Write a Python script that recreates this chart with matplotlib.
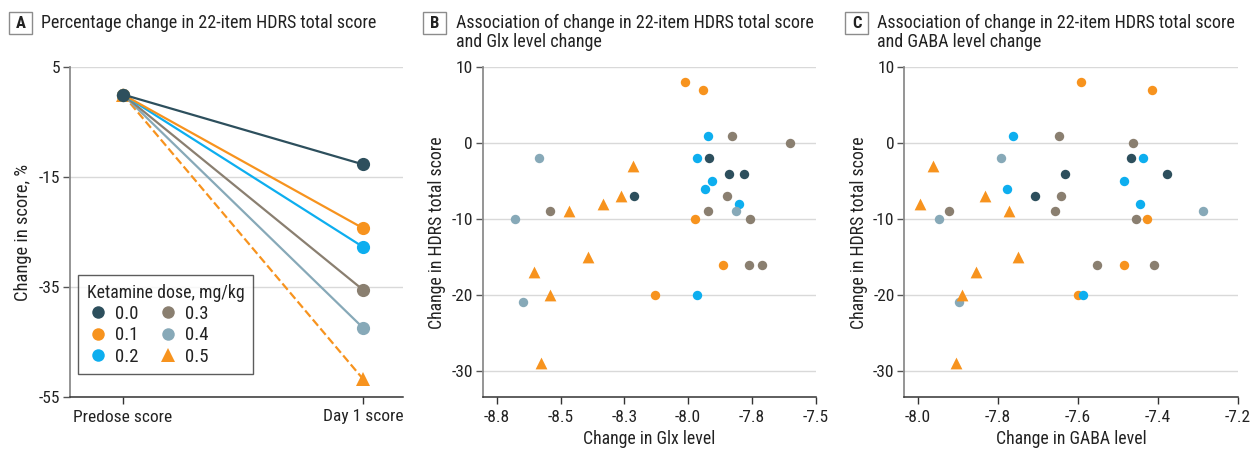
import matplotlib
matplotlib.use("Agg")
import matplotlib.pyplot as plt
from matplotlib import font_manager
from matplotlib.lines import Line2D
from matplotlib.patches import Rectangle

avail = {f.name for f in font_manager.fontManager.ttflist}
fam = None
for cand in ["Liberation Sans Narrow", "DejaVu Sans Condensed", "Roboto Condensed", "Open Sans Condensed", "Roboto"]:
    if cand in avail:
        fam = cand
        break
plt.rcParams['font.family'] = [fam, 'DejaVu Sans']
plt.rcParams['axes.unicode_minus'] = False

# ---------------- data ----------------
doses = ["0.0", "0.1", "0.2", "0.3", "0.4", "0.5"]
colors = ["#2d4f5d", "#f7931e", "#0daeef", "#8a7f70", "#87a9b8", "#f7931e"]
markers = ["o", "o", "o", "o", "o", "^"]

# Panel A: percentage change at day 1 (predose = 0)
timepoints = ["Predose score", "Day 1 score"]
predose = [0, 0, 0, 0, 0, 0]
day1 = [-12.7, -24.3, -27.7, -35.5, -42.4, -51.7]

# Panel B: Glx change vs HDRS change
glx_00 = [-7.917, -7.841, -7.780, -8.211]
hdrs_glx_00 = [-2, -4, -4, -7]
glx_01 = [-8.013, -7.943, -7.974, -7.862, -8.128]
hdrs_glx_01 = [8, 7, -10, -16, -20]
glx_02 = [-7.922, -7.966, -7.905, -7.934, -7.799, -7.966]
hdrs_glx_02 = [1, -2, -5, -6, -8, -20]
glx_03 = [-7.827, -7.601, -7.846, -7.921, -8.541, -7.757, -7.760, -7.709]
hdrs_glx_03 = [1, 0, -7, -9, -9, -10, -16, -16]
glx_04 = [-8.586, -8.677, -8.647, -7.811]
hdrs_glx_04 = [-2, -10, -21, -9]
glx_05 = [-8.217, -8.264, -8.333, -8.465, -8.394, -8.604, -8.540, -8.578]
hdrs_glx_05 = [-3, -7, -8, -9, -15, -17, -20, -29]

# Panel C: GABA change vs HDRS change
gaba_00 = [-7.468, -7.633, -7.378, -7.707]
hdrs_gaba_00 = [-2, -4, -4, -7]
gaba_01 = [-7.592, -7.415, -7.428, -7.484, -7.599]
hdrs_gaba_01 = [8, 7, -10, -16, -20]
gaba_02 = [-7.761, -7.438, -7.484, -7.778, -7.444, -7.586]
hdrs_gaba_02 = [1, -2, -5, -6, -8, -20]
gaba_03 = [-7.647, -7.463, -7.643, -7.657, -7.922, -7.454, -7.552, -7.410]
hdrs_gaba_03 = [1, 0, -7, -9, -9, -10, -16, -16]
gaba_04 = [-7.793, -7.948, -7.897, -7.288]
hdrs_gaba_04 = [-2, -10, -21, -9]
gaba_05 = [-7.962, -7.833, -7.995, -7.771, -7.749, -7.854, -7.889, -7.905]
hdrs_gaba_05 = [-3, -7, -8, -9, -15, -17, -20, -29]

a_yticks = [5, -15, -35, -55]
b_xticks = [-8.75, -8.5, -8.25, -8.0, -7.75, -7.5]
b_xticklabels = ["-8.8", "-8.5", "-8.3", "-8.0", "-7.8", "-7.5"]
c_xticks = [-8.0, -7.8, -7.6, -7.4, -7.2]
c_xticklabels = ["-8.0", "-7.8", "-7.6", "-7.4", "-7.2"]
bc_yticks = [10, 0, -10, -20, -30]

glx = [glx_00, glx_01, glx_02, glx_03, glx_04, glx_05]
hglx = [hdrs_glx_00, hdrs_glx_01, hdrs_glx_02, hdrs_glx_03, hdrs_glx_04, hdrs_glx_05]
gaba = [gaba_00, gaba_01, gaba_02, gaba_03, gaba_04, gaba_05]
hgaba = [hdrs_gaba_00, hdrs_gaba_01, hdrs_gaba_02, hdrs_gaba_03, hdrs_gaba_04, hdrs_gaba_05]

# ---------------- figure ----------------
W, H = 1258, 449
fig = plt.figure(figsize=(W / 100, H / 100), dpi=100)

def px_axes(l, r, t, b):
    return fig.add_axes([l / W, (H - b) / H, (r - l) / W, (b - t) / H])

axA = px_axes(70, 403, 67, 397)
axB = px_axes(482.7, 815.7, 67.3, 397.3)
axC = px_axes(904.3, 1237.7, 67.3, 397.3)

TXT = "#222222"
FS = 12.5
LFS = 12.8

def style(ax):
    for s in ["top", "right"]:
        ax.spines[s].set_visible(False)
    ax.spines["left"].set_color("#8c8c8c")
    ax.spines["left"].set_linewidth(1.3)
    ax.spines["bottom"].set_color("#333333")
    ax.spines["bottom"].set_linewidth(1.1)
    ax.tick_params(axis="y", length=5, width=1.0, color="#555555", labelsize=FS, labelcolor=TXT, pad=2)
    ax.tick_params(axis="x", length=5, width=1.0, color="#333333", labelsize=FS, labelcolor=TXT, pad=4)
    ax.grid(axis="y", color="#d9d9d9", linewidth=1.0)
    ax.set_axisbelow(True)

# Panel A
style(axA)
xpos = [0, 1]
for i in reversed(range(6)):
    ls = "--" if i == 5 else "-"
    axA.plot(xpos, [predose[i], day1[i]], color=colors[i], linestyle=ls, linewidth=1.6,
             marker=markers[i], markersize=9.5 if markers[i] == "o" else 10, zorder=3 + (6 - i),
             markeredgewidth=0, clip_on=False)
axA.set_xlim(-0.22, 1.167)
axA.set_ylim(-55, 5)
axA.set_yticks(a_yticks)
axA.set_yticklabels([str(v) for v in a_yticks])
axA.set_xticks(xpos)
axA.set_xticklabels(timepoints)
axA.set_ylabel("Change in score, %", fontsize=LFS + 0.5, color=TXT, labelpad=5)

handles = [Line2D([], [], linestyle="none", marker=markers[i], color=colors[i],
                  markersize=9 if markers[i] == "o" else 10, markeredgewidth=0) for i in range(6)]
leg = axA.legend(handles, doses, title="Ketamine dose, mg/kg", ncol=2, loc="upper left",
                 bbox_to_anchor=(0.025, 0.369), borderaxespad=0, fontsize=13.5,
                 title_fontsize=12.8, frameon=True, fancybox=False, handletextpad=0.3,
                 columnspacing=1.0, labelspacing=0.18, handlelength=1.2, borderpad=0.45)
leg._legend_box.align = "left"
leg.get_frame().set_edgecolor("#333333")
leg.get_frame().set_linewidth(1.0)
for t in leg.get_texts():
    t.set_color(TXT)
leg.get_title().set_color(TXT)
leg.set_zorder(20)

# Panels B and C
for ax, xs, ys, xt, xtl, xlim, xlabel in [
    (axB, glx, hglx, b_xticks, b_xticklabels, (-8.805, -7.5), "Change in Glx level"),
    (axC, gaba, hgaba, c_xticks, c_xticklabels, (-8.0335, -7.2), "Change in GABA level"),
]:
    style(ax)
    for i in range(6):
        ax.scatter(xs[i], ys[i], color=colors[i], marker=markers[i],
                   s=46 if markers[i] == "o" else 72, linewidths=0, zorder=3, clip_on=False)
    ax.set_xlim(*xlim)
    ax.set_ylim(-33.5, 10)
    ax.set_yticks(bc_yticks)
    ax.set_yticklabels([str(v) for v in bc_yticks])
    ax.set_xticks(xt)
    ax.set_xticklabels(xtl)
    ax.set_xlabel(xlabel, fontsize=LFS, color=TXT, labelpad=4)
    ax.set_ylabel("Change in HDRS total score", fontsize=LFS, color=TXT, labelpad=4)

# Titles
def panel_title(letter, bl, lines, tx):
    bt, bb, bw = 11.7, 34.3, 23
    fig.patches.append(Rectangle((bl / W, 1 - bb / H), bw / W, (bb - bt) / H,
                                 transform=fig.transFigure, facecolor="white",
                                 edgecolor="#8c8c8c", linewidth=1.0))
    fig.text((bl + bw / 2) / W, 1 - (bt + bb) / 2 / H, letter, fontsize=12, fontweight="bold",
             color=TXT, ha="center", va="center")
    fig.text(tx / W, 1 - 14 / H, "\n".join(lines), fontsize=13, color=TXT,
             ha="left", va="top", linespacing=1.05)

panel_title("A", 9.3, ["Percentage change in 22-item HDRS total score"], 41)
panel_title("B", 423.3, ["Association of change in 22-item HDRS total score", "and Glx level change"], 456.5)
panel_title("C", 845, ["Association of change in 22-item HDRS total score", "and GABA level change"], 877)

fig.savefig("out.png", dpi=100)
